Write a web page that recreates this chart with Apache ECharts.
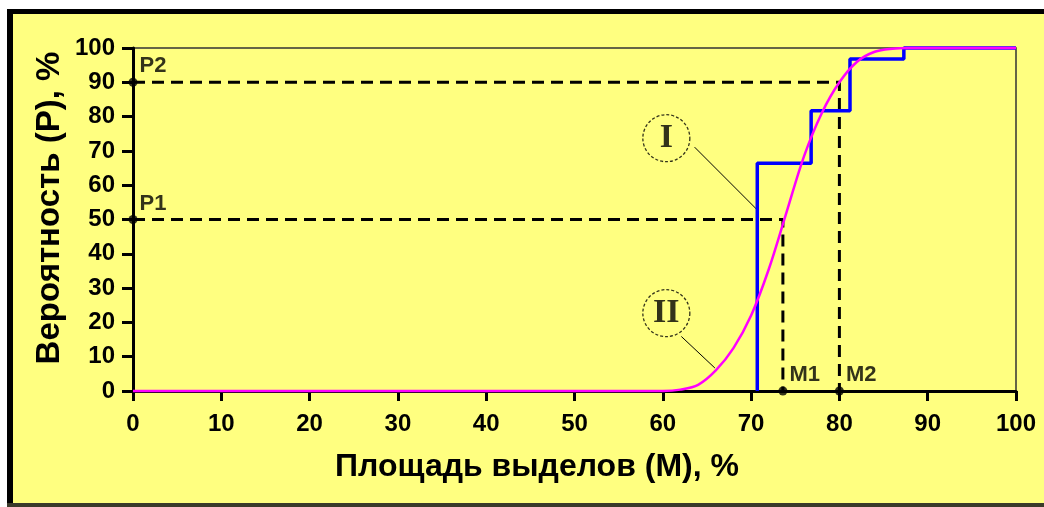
<!DOCTYPE html>
<html>
<head>
<meta charset="utf-8">
<script src="https://cdn.jsdelivr.net/npm/echarts@6/dist/echarts.min.js"></script>
<style>
  html, body { margin: 0; padding: 0; background: #ffffff; }
  #chart { width: 1044px; height: 507px; }
</style>
</head>
<body>
<div id="chart"></div>
<script>
// Axis ticks
const xTicks = [0, 10, 20, 30, 40, 50, 60, 70, 80, 90, 100];
const yTicks = [0, 10, 20, 30, 40, 50, 60, 70, 80, 90, 100];

// Curve I: empirical step distribution (area M, probability P)
const stepM = [70.7, 70.7, 76.8, 81.2, 87.3, 100];
const stepP = [0, 66.4, 81.7, 96.8, 100, 100];

// Curve II: smoothed distribution
const curveM = [0, 60, 62, 64, 66, 68, 70, 72, 74, 76, 78, 80, 82, 84, 86, 88, 100];
const curveP = [0, 0, 0.4, 1.8, 6, 12.5, 22, 35.5, 52, 68.5, 81, 90, 96, 98.9, 99.8, 100, 100];

// Reference probabilities and the matching areas
const pointNames = ['P1', 'P2', 'M1', 'M2'];
const P1 = 50, P2 = 90;
const M1 = 73.6, M2 = 80;

// Circled curve labels and their leader lines
const tagNames = ['I', 'II'];
const tagM = [60.4, 60.4];
const tagP = [73.7, 22.7];
const leaderI = [[63.6, 71.1], [70.7, 52.8]];
const leaderII = [[62.1, 15.9], [65.9, 6.7]];

const zip = (a, b) => a.map((v, i) => [v, b[i]]);

const chart = echarts.init(document.getElementById('chart'), null, { renderer: 'canvas' });

const sans = 'Liberation Sans, Arial, sans-serif';
const tickFont = { color: '#000', fontFamily: sans, fontWeight: 'bold', fontSize: 24 };

const option = {
  backgroundColor: '#FFFF80',
  animation: false,
  grid: {
    left: 133, top: 48, right: 28, bottom: 116,
    show: true, borderColor: '#333', borderWidth: 1.5, backgroundColor: 'transparent'
  },
  xAxis: {
    type: 'value', min: 0, max: 100, interval: 10,
    axisLine: { show: true, onZero: false, lineStyle: { color: '#000', width: 3 } },
    axisTick: { show: true, length: 10, lineStyle: { color: '#000', width: 3 } },
    axisLabel: Object.assign({ margin: 21, formatter: v => xTicks.includes(v) ? String(v) : '' }, tickFont),
    splitLine: { show: false }
  },
  yAxis: {
    type: 'value', min: 0, max: 100, interval: 10,
    axisLine: { show: true, onZero: false, lineStyle: { color: '#000', width: 3 } },
    axisTick: { show: true, length: 11, lineStyle: { color: '#000', width: 3 } },
    axisLabel: Object.assign({ margin: 18, formatter: v => yTicks.includes(v) ? String(v) : '' }, tickFont),
    splitLine: { show: false }
  },
  graphic: [
    { type: 'rect', shape: { x: 0, y: 0, width: 1044, height: 9 }, style: { fill: '#fff' }, silent: true },
    { type: 'rect', shape: { x: 0, y: 0, width: 7, height: 507 }, style: { fill: '#fff' }, silent: true },
    { type: 'rect', shape: { x: 7, y: 9, width: 1037, height: 5 }, style: { fill: '#000' }, silent: true },
    { type: 'rect', shape: { x: 7, y: 9, width: 6, height: 498 }, style: { fill: '#000' }, silent: true },
    { type: 'rect', shape: { x: 7, y: 503, width: 1037, height: 4 }, style: { fill: '#3a3a2a' }, silent: true },
    {
      type: 'text', x: 50, y: 208, rotation: Math.PI / 2,
      style: {
        text: 'Вероятность (P), %', fill: '#000',
        font: 'bold 33px ' + sans, textAlign: 'center', textVerticalAlign: 'middle'
      }
    },
    {
      type: 'text', x: 537, y: 467,
      style: {
        text: 'Площадь выделов (M), %', fill: '#000',
        font: 'bold 32px ' + sans, textAlign: 'center', textVerticalAlign: 'middle'
      }
    }
  ],
  series: [
    // dashed guides from P1/P2 to the curve and down to M1/M2
    {
      type: 'line', data: [[0, P2], [M2, P2], [M2, 0]], symbol: 'none', clip: false, z: 3,
      lineStyle: { color: '#000', width: 3, type: [12, 7] }, silent: true
    },
    {
      type: 'line', data: [[0, P1], [M1, P1], [M1, 0]], symbol: 'none', clip: false, z: 3,
      lineStyle: { color: '#000', width: 3, type: [12, 7] }, silent: true
    },
    // leader lines for the circled labels
    {
      type: 'line', data: leaderI, symbol: 'none', clip: false, z: 3,
      lineStyle: { color: '#000', width: 1 }, silent: true
    },
    {
      type: 'line', data: leaderII, symbol: 'none', clip: false, z: 3,
      lineStyle: { color: '#000', width: 1 }, silent: true
    },
    // curve I: step
    {
      type: 'line', step: 'end', data: zip(stepM, stepP), symbol: 'none', clip: false, z: 4,
      lineStyle: { color: '#0000FF', width: 3.5 }, silent: true
    },
    // curve II: smooth
    {
      type: 'line', data: zip(curveM, curveP), symbol: 'none', smooth: 0.35,
      clip: false, z: 5, lineStyle: { color: '#FF00FF', width: 2.5 }, silent: true
    },
    // reference points
    {
      type: 'scatter', symbol: 'circle', symbolSize: 9, clip: false, z: 6, silent: true,
      itemStyle: { color: '#000' },
      label: {
        show: true, position: 'right', distance: 2, offset: [0, -16],
        formatter: p => p.name,
        color: '#000', fontFamily: sans, fontWeight: 'bold', fontSize: 22
      },
      data: [
        { name: pointNames[0], value: [0, P1] },
        { name: pointNames[1], value: [0, P2] },
        { name: pointNames[2], value: [M1, 0] },
        { name: pointNames[3], value: [M2, 0] }
      ]
    },
    // circled tags
    {
      type: 'scatter', symbol: 'circle', symbolSize: 47, clip: false, z: 6, silent: true,
      itemStyle: { color: 'rgba(0,0,0,0)', borderColor: '#000', borderWidth: 1.3, borderType: [3, 2] },
      label: {
        show: true, position: 'inside', formatter: p => p.name,
        color: '#000', fontFamily: 'Liberation Serif, Times New Roman, serif', fontWeight: 'bold', fontSize: 34
      },
      data: tagNames.map((n, i) => ({ name: n, value: [tagM[i], tagP[i]] }))
    }
  ]
};

chart.setOption(option);
</script>
</body>
</html>
